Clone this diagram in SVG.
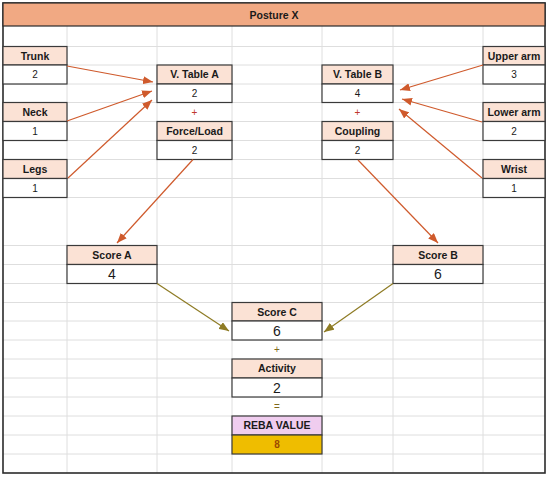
<svg xmlns="http://www.w3.org/2000/svg" width="550" height="478" viewBox="0 0 550 478">
<style>
.grid line{stroke:#dedede;stroke-width:1}
.hd{fill:#fbe2d5;stroke:#3a3a3a;stroke-width:1.2}
.vl{fill:#ffffff;stroke:#3a3a3a;stroke-width:1.2}
.ht{font-family:"Liberation Sans",Arial,sans-serif;font-weight:bold;font-size:10.5px;fill:#1a1a1a;text-anchor:middle}
.vs{font-family:"Liberation Sans",Arial,sans-serif;font-size:10px;fill:#1a1a1a;text-anchor:middle}
.vb{font-family:"Liberation Sans",Arial,sans-serif;font-size:14px;fill:#1a1a1a;text-anchor:middle}
.op1{font-family:"Liberation Sans",Arial,sans-serif;font-size:10px;fill:#c0392b;text-anchor:middle}
.op2{font-family:"Liberation Sans",Arial,sans-serif;font-size:10px;fill:#7f6a1b;text-anchor:middle}
.ca{stroke:#cf5a2c;stroke-width:1.2;fill:none;marker-end:url(#ah1)}
.cb{stroke:#8e7b24;stroke-width:1.2;fill:none;marker-end:url(#ah2)}
</style>
<defs>
<marker id="ah1" markerUnits="userSpaceOnUse" markerWidth="10" markerHeight="8" refX="10" refY="4" orient="auto"><path d="M0,0 L10,4 L0,8 z" fill="#cf5a2c"/></marker>
<marker id="ah2" markerUnits="userSpaceOnUse" markerWidth="10" markerHeight="8" refX="10" refY="4" orient="auto"><path d="M0,0 L10,4 L0,8 z" fill="#8e7b24"/></marker>
</defs>
<rect x="0" y="0" width="550" height="478" fill="#ffffff"/>
<g class="grid">
<line x1="3" y1="46.5" x2="545" y2="46.5"/>
<line x1="3" y1="65" x2="545" y2="65"/>
<line x1="3" y1="84" x2="545" y2="84"/>
<line x1="3" y1="102.5" x2="545" y2="102.5"/>
<line x1="3" y1="121.5" x2="545" y2="121.5"/>
<line x1="3" y1="140.5" x2="545" y2="140.5"/>
<line x1="3" y1="159.5" x2="545" y2="159.5"/>
<line x1="3" y1="178.5" x2="545" y2="178.5"/>
<line x1="3" y1="197.5" x2="545" y2="197.5"/>
<line x1="3" y1="245.5" x2="545" y2="245.5"/>
<line x1="3" y1="264.5" x2="545" y2="264.5"/>
<line x1="3" y1="283.5" x2="545" y2="283.5"/>
<line x1="3" y1="302.5" x2="545" y2="302.5"/>
<line x1="3" y1="321" x2="545" y2="321"/>
<line x1="3" y1="340" x2="545" y2="340"/>
<line x1="3" y1="359" x2="545" y2="359"/>
<line x1="3" y1="378" x2="545" y2="378"/>
<line x1="3" y1="397" x2="545" y2="397"/>
<line x1="3" y1="416" x2="545" y2="416"/>
<line x1="3" y1="435" x2="545" y2="435"/>
<line x1="3" y1="454" x2="545" y2="454"/>
<line x1="67" y1="26" x2="67" y2="473"/>
<line x1="157" y1="26" x2="157" y2="473"/>
<line x1="232" y1="26" x2="232" y2="473"/>
<line x1="322" y1="26" x2="322" y2="473"/>
<line x1="393" y1="26" x2="393" y2="473"/>
<line x1="483" y1="26" x2="483" y2="473"/>
</g>
<rect x="3" y="3" width="542" height="470" fill="none" stroke="#2b2b2b" stroke-width="1.6"/>
<g id="title">
<rect x="3" y="3" width="542" height="23" fill="#f1a983" stroke="#2b2b2b" stroke-width="1.2"/>
<text class="ht" x="274" y="18.5">Posture X</text>
</g>
<g id="trunk"><rect class="hd" x="3" y="46.5" width="64" height="18.5"/><rect class="vl" x="3" y="65" width="64" height="19"/><text class="ht" x="35" y="59.5">Trunk</text><text class="vs" x="35" y="78">2</text></g>
<g id="neck"><rect class="hd" x="3" y="102.5" width="64" height="19"/><rect class="vl" x="3" y="121.5" width="64" height="19"/><text class="ht" x="35" y="115.5">Neck</text><text class="vs" x="35" y="134.5">1</text></g>
<g id="legs"><rect class="hd" x="3" y="159.5" width="64" height="19"/><rect class="vl" x="3" y="178.5" width="64" height="19"/><text class="ht" x="35" y="172.5">Legs</text><text class="vs" x="35" y="191.5">1</text></g>
<g id="vtablea"><rect class="hd" x="157" y="65" width="75" height="19"/><rect class="vl" x="157" y="84" width="75" height="18.5"/><text class="ht" x="194.5" y="78">V. Table A</text><text class="vs" x="194.5" y="96.5">2</text></g>
<text class="op1" x="194.5" y="115.5">+</text>
<g id="forceload"><rect class="hd" x="157" y="121.5" width="75" height="19"/><rect class="vl" x="157" y="140.5" width="75" height="19"/><text class="ht" x="194.5" y="134.5">Force/Load</text><text class="vs" x="194.5" y="153.5">2</text></g>
<g id="upperarm"><rect class="hd" x="483" y="46.5" width="62" height="18.5"/><rect class="vl" x="483" y="65" width="62" height="19"/><text class="ht" x="514" y="59.5">Upper arm</text><text class="vs" x="514" y="78">3</text></g>
<g id="lowerarm"><rect class="hd" x="483" y="102.5" width="62" height="19"/><rect class="vl" x="483" y="121.5" width="62" height="19"/><text class="ht" x="514" y="115.5">Lower arm</text><text class="vs" x="514" y="134.5">2</text></g>
<g id="wrist"><rect class="hd" x="483" y="159.5" width="62" height="19"/><rect class="vl" x="483" y="178.5" width="62" height="19"/><text class="ht" x="514" y="172.5">Wrist</text><text class="vs" x="514" y="191.5">1</text></g>
<g id="vtableb"><rect class="hd" x="322" y="65" width="71" height="19"/><rect class="vl" x="322" y="84" width="71" height="18.5"/><text class="ht" x="357.5" y="78">V. Table B</text><text class="vs" x="357.5" y="96.5">4</text></g>
<text class="op1" x="357.5" y="115.5">+</text>
<g id="coupling"><rect class="hd" x="322" y="121.5" width="71" height="19"/><rect class="vl" x="322" y="140.5" width="71" height="19"/><text class="ht" x="357.5" y="134.5">Coupling</text><text class="vs" x="357.5" y="153.5">2</text></g>
<g id="scorea"><rect class="hd" x="67" y="245.5" width="90" height="19"/><rect class="vl" x="67" y="264.5" width="90" height="19"/><text class="ht" x="112" y="258.5">Score A</text><text class="vb" x="112" y="279">4</text></g>
<g id="scoreb"><rect class="hd" x="393" y="245.5" width="90" height="19"/><rect class="vl" x="393" y="264.5" width="90" height="19"/><text class="ht" x="438" y="258.5">Score B</text><text class="vb" x="438" y="279">6</text></g>
<g id="scorec"><rect class="hd" x="232" y="302.5" width="90" height="18.5"/><rect class="vl" x="232" y="321" width="90" height="19"/><text class="ht" x="277" y="315.5">Score C</text><text class="vb" x="277" y="335.5">6</text></g>
<text class="op2" x="277" y="353">+</text>
<g id="activity"><rect class="hd" x="232" y="359" width="90" height="19"/><rect class="vl" x="232" y="378" width="90" height="19"/><text class="ht" x="277" y="372">Activity</text><text class="vb" x="277" y="392.5">2</text></g>
<text class="op2" x="277" y="410">=</text>
<g id="reba"><rect x="232" y="416" width="90" height="19" fill="#f0cdef" stroke="#3a3a3a" stroke-width="1.2"/><rect x="232" y="435" width="90" height="19" fill="#efbd00" stroke="#3a3a3a" stroke-width="1.2"/><text class="ht" x="277" y="429">REBA VALUE</text><text x="277" y="448" font-family="Liberation Sans,Arial,sans-serif" font-size="10px" font-weight="bold" fill="#9c4a00" text-anchor="middle">8</text></g>
<g id="connectors">
<line class="ca" x1="67" y1="66" x2="153" y2="82"/>
<line class="ca" x1="67" y1="121" x2="152" y2="91"/>
<line class="ca" x1="68" y1="178" x2="152" y2="100"/>
<line class="ca" x1="483" y1="65" x2="400" y2="90"/>
<line class="ca" x1="482" y1="122" x2="402" y2="99"/>
<line class="ca" x1="482" y1="178" x2="399" y2="109"/>
<line class="ca" x1="193" y1="159.5" x2="117" y2="243"/>
<line class="ca" x1="358" y1="160" x2="438" y2="243"/>
<line class="cb" x1="157" y1="283.5" x2="229" y2="331"/>
<line class="cb" x1="393" y1="283.5" x2="324" y2="332"/>
</g>
</svg>
